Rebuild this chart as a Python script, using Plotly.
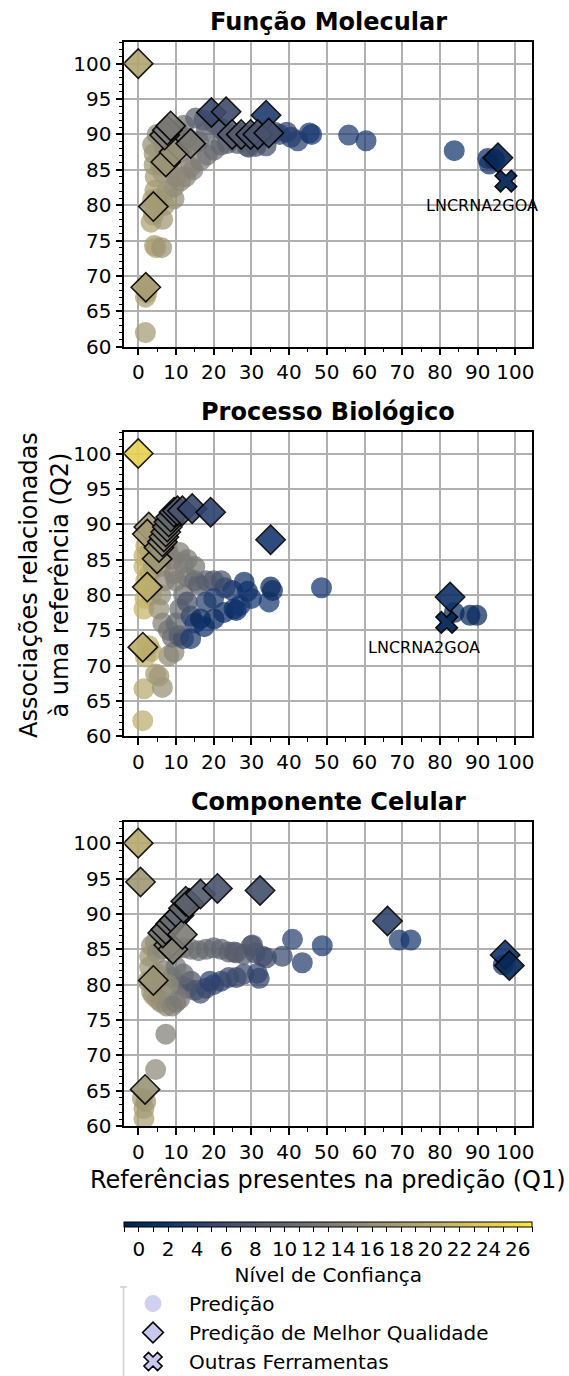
import plotly.graph_objects as go

FONT = "DejaVu Sans"

# ---------------- data ----------------
x_ticks = [0, 10, 20, 30, 40, 50, 60, 70, 80, 90, 100]
y_ticks = [60, 65, 70, 75, 80, 85, 90, 95, 100]
conf_ticks = list(range(-1, 28))
conf_labels = [str(v) if (v >= 0 and v % 2 == 0) else "" for v in conf_ticks]

subplot_titles = ["Função Molecular", "Processo Biológico", "Componente Celular"]

# Função Molecular
mf_x = [1.9, 1.9, 2.3, 2.0, 4.3, 4.7, 6.2, 3.4, 4.0, 3.8, 5.0, 9.5, 4.4, 7.6, 9.5, 11.2, 12.6, 4.5,
        6.5, 4.2, 5.9, 9.0, 13.9, 14.5, 16.5, 18.3, 20.1, 21.9, 23.6, 26.3, 28.9, 31.2, 33.9, 29.3,
        4.2, 3.8, 5.0, 6.8, 10.4, 12.1, 15.2, 17.4, 20.1, 22.0, 24.5, 27.0, 30.0, 33.0, 36.2, 37.5,
        39.4, 42.3, 40.5, 45.4, 46.0, 55.8, 60.4, 83.8, 92.7, 93.1, 94.5, 11.5, 8.0, 10.0, 7.0, 6.5,
        8.5, 13.0, 18.0, 16.0]
mf_y = [62.0, 67.0, 67.6, 68.6, 74.3, 74.0, 74.0, 77.6, 78.6, 80.8, 80.9, 80.9, 82.1, 82.1, 82.6, 83.4, 84.0, 84.0,
        84.5, 85.7, 85.7, 85.2, 85.4, 85.0, 86.3, 87.1, 87.8, 88.5, 88.7, 88.7, 88.3, 88.3, 88.4, 88.2,
        87.3, 88.5, 90.0, 88.3, 90.6, 91.3, 92.3, 92.0, 91.6, 90.8, 90.0, 90.2, 89.9, 90.0, 90.3, 90.0,
        90.3, 89.1, 89.6, 90.2, 90.0, 89.9, 89.1, 87.7, 86.6, 85.8, 86.5, 87.5, 86.0, 84.0, 80.0, 78.0,
        88.5, 89.5, 90.5, 89.0]
mf_conf = [17.5, 18.5, 18.5, 18.0, 18.0, 18.5, 16.5, 18.5, 18.0, 18.0, 17.5, 15.5, 18.0, 16.5, 15.5, 15.0, 14.5, 17.5,
           17.0, 17.0, 16.5, 15.5, 14.0, 14.0, 13.0, 12.0, 11.0, 10.0, 9.0, 8.5, 8.0, 7.0, 6.0, 7.5,
           16.5, 16.0, 15.0, 15.5, 13.0, 12.0, 9.0, 8.0, 7.0, 7.0, 7.5, 7.0, 6.5, 6.0, 5.0, 4.5,
           4.0, 4.0, 3.5, 3.0, 2.5, 3.0, 3.0, 2.0, 1.0, 1.5, 0.5, 14.0, 16.0, 15.0, 17.0, 17.0,
           14.0, 11.0, 9.0, 11.0]
mf_best_x = [0.0, 2.0, 4.0, 7.3, 9.5, 7.0, 7.7, 8.6, 13.9, 19.4, 23.3, 33.9, 24.9, 27.3, 29.8, 31.7, 34.6, 95.4]
mf_best_y = [100.0, 68.4, 79.8, 86.1, 87.5, 89.9, 90.6, 91.2, 88.7, 93.1, 93.2, 92.7, 90.0, 90.0, 90.0, 90.0, 90.2, 86.7]
mf_best_conf = [19.0, 18.0, 17.5, 16.5, 16.0, 13.5, 13.0, 12.5, 13.0, 5.0, 5.5, 3.0, 8.5, 8.0, 7.5, 7.0, 6.5, 0.0]
mf_tool_x = [97.5]
mf_tool_y = [83.4]
mf_tool_name = ["LNCRNA2GOA"]
mf_label_x = [91.1]
mf_label_y = [79.9]

# Processo Biológico
bp_x = [1.5, 1.8, 2.0, 1.5, 1.5, 2.0, 3.0, 3.5, 3.0, 4.0,
        1.2, 1.5, 6.4, 4.6, 5.5, 8.1, 9.5, 1.9, 2.8, 3.5,
        6.0, 7.0, 8.0, 9.0, 7.0, 6.0, 5.5, 6.5, 8.0, 9.0, 10.8, 12.0, 13.9, 10.0, 11.0, 12.0, 10.0,
        13.0, 15.0, 16.0, 18.0, 20.0, 22.0, 23.0, 25.0, 28.1, 29.0, 30.0, 35.1, 34.7, 35.6, 14.0,
        15.0, 16.5, 17.5, 20.1, 22.7, 25.4, 18.0, 20.0, 13.0, 15.0, 12.0, 11.0, 13.0, 9.5, 26.0, 27.0,
        48.6, 83.8, 88.0, 89.8]
bp_y = [78.0, 79.5, 82.0, 84.0, 85.5, 87.0, 83.0, 80.0, 86.0, 84.0,
        62.2, 66.7, 66.9, 68.8, 68.5, 71.4, 71.9, 71.2, 72.8, 72.0,
        84.0, 85.5, 86.0, 85.0, 82.0, 80.0, 78.0, 76.0, 75.0, 74.0, 74.2, 73.8, 73.8, 76.0, 78.0, 80.0, 82.0,
        82.5, 82.0, 81.5, 82.0, 82.0, 82.0, 81.0, 80.6, 81.8, 80.5, 79.5, 81.1, 79.0, 80.6, 77.0,
        76.0, 76.6, 75.5, 76.6, 77.5, 78.0, 79.0, 79.5, 79.0, 84.0, 84.5, 86.0, 85.0, 83.0, 77.8, 78.5,
        81.0, 77.5, 77.1, 77.1]
bp_conf = [21.0, 21.0, 20.5, 21.0, 20.5, 20.0, 19.5, 19.5, 19.0, 18.5,
           20.0, 19.5, 16.0, 17.5, 17.0, 15.0, 14.5, 20.5, 20.0, 19.5,
           16.0, 15.0, 14.5, 14.0, 15.0, 15.5, 16.0, 14.0, 12.0, 11.0, 8.0, 6.0, 3.0, 10.0, 11.0, 12.0, 13.0,
           12.0, 10.0, 9.0, 8.5, 8.0, 7.0, 5.0, 3.0, 1.5, 1.5, 2.0, 0.5, 2.5, 1.0, 5.0,
           3.0, 0.0, 1.5, 0.5, 1.0, 1.5, 4.0, 3.0, 7.0, 12.0, 13.0, 13.5, 13.0, 13.5, 1.0, 2.0,
           2.0, 1.0, 0.0, 0.5]
bp_best_x = [0.0, 1.2, 2.4, 5.0, 2.8, 2.4, 5.5, 6.4, 6.8, 7.3, 7.7, 8.1, 8.6, 9.5, 10.4, 11.7, 14.3, 19.2, 35.1, 82.7]
bp_best_y = [100.0, 72.6, 81.1, 85.1, 89.6, 88.6, 86.7, 87.5, 88.2, 88.9, 89.6, 90.3, 91.0, 91.7, 91.9, 91.9, 92.2, 91.7, 87.8, 79.7]
bp_best_conf = [24.5, 20.0, 20.0, 17.0, 17.0, 17.5, 16.0, 15.0, 14.0, 13.0, 12.0, 11.0, 10.0, 9.0, 8.0, 7.0, 5.0, 4.0, 2.5, 1.5]
bp_tool_x = [81.8]
bp_tool_y = [76.1]
bp_tool_name = ["LNCRNA2GOA"]
bp_label_x = [75.8]
bp_label_y = [72.6]

# Componente Celular
cc_x = [3.5, 4.5, 3.0, 5.0, 6.5, 8.0, 10.0, 12.0, 14.0, 16.0, 18.0, 20.0, 22.0, 24.0, 26.0, 28.0,
        30.0, 31.0, 33.0, 34.0, 38.2, 40.9, 43.5, 48.8, 69.2, 72.3, 96.8, 30.3, 25.4,
        7.0, 9.0, 11.0, 13.0, 15.0, 16.5, 18.0, 20.0, 22.0, 24.0, 26.0, 28.0, 31.6, 32.1, 14.0, 12.0, 10.0, 19.0,
        3.0, 2.5, 3.5, 4.0, 5.0, 6.0, 7.5, 9.0, 10.0, 11.0, 6.5, 8.0, 5.0,
        7.3, 4.6, 1.5, 1.5, 1.1, 2.0]
cc_y = [85.5, 86.0, 84.0, 84.5, 85.0, 85.5, 85.0, 85.2, 85.0, 84.8, 85.0, 85.2, 85.0, 84.6, 84.5, 84.3,
        85.5, 84.5, 84.0, 83.8, 84.0, 86.4, 83.1, 85.5, 86.3, 86.3, 82.8, 85.6, 84.6,
        82.0, 81.0, 80.0, 79.5, 79.2, 78.8, 79.5, 80.0, 80.5, 81.0, 81.0, 81.5, 81.6, 80.9, 80.5, 81.5, 82.5, 80.5,
        82.5, 80.5, 79.0, 78.5, 78.0, 77.5, 77.0, 77.0, 77.5, 78.0, 79.5, 80.0, 81.5,
        73.0, 68.0, 62.5, 61.1, 63.9, 63.5]
cc_conf = [16.0, 15.5, 16.5, 15.0, 14.5, 14.0, 13.0, 12.5, 12.0, 11.0, 10.5, 10.0, 9.5, 9.0, 8.5, 8.0,
           7.5, 7.0, 6.5, 6.0, 5.0, 4.0, 3.5, 3.0, 3.0, 2.5, 1.0, 7.5, 8.5,
           13.0, 12.0, 10.0, 9.0, 8.0, 6.0, 5.0, 5.0, 4.5, 5.0, 5.0, 5.5, 5.0, 4.5, 7.0, 10.0, 12.0, 4.0,
           16.5, 17.0, 17.0, 17.0, 16.5, 16.0, 15.0, 14.0, 13.0, 12.5, 15.5, 15.0, 16.0,
           13.5, 15.0, 17.5, 18.0, 17.5, 17.0]
cc_best_x = [0.0, 0.6, 1.8, 4.0, 8.1, 9.2, 6.5, 7.3, 8.6, 9.5, 10.8, 11.7, 12.0, 12.6, 13.5, 16.5, 21.0, 32.3, 66.1, 97.3, 98.4]
cc_best_y = [100.0, 94.5, 65.2, 80.6, 85.6, 85.0, 87.3, 87.8, 88.6, 89.1, 89.8, 87.1, 90.8, 91.8, 91.5, 92.8, 93.6, 93.3, 89.0, 84.2, 82.7]
cc_best_conf = [19.5, 17.0, 16.5, 16.5, 14.5, 14.0, 12.0, 12.0, 11.0, 10.5, 10.0, 13.0, 9.5, 9.0, 9.0, 8.0, 7.0, 6.0, 4.5, 2.0, 0.0]

panels = [
    dict(cx=mf_x, cy=mf_y, cc=mf_conf, bx=mf_best_x, by=mf_best_y, bc=mf_best_conf,
         tx=mf_tool_x, ty=mf_tool_y, tn=mf_tool_name, lx=mf_label_x, ly=mf_label_y),
    dict(cx=bp_x, cy=bp_y, cc=bp_conf, bx=bp_best_x, by=bp_best_y, bc=bp_best_conf,
         tx=bp_tool_x, ty=bp_tool_y, tn=bp_tool_name, lx=bp_label_x, ly=bp_label_y),
    dict(cx=cc_x, cy=cc_y, cc=cc_conf, bx=cc_best_x, by=cc_best_y, bc=cc_best_conf,
         tx=[], ty=[], tn=[], lx=[], ly=[]),
]

# ---------------- layout geometry ----------------
W, H = 569, 1376
X_DOM = [124.3 / W, 532.3 / W]
Y_DOMS = [[1 - 346.7 / H, 1 - 42.4 / H],
          [1 - 736.2 / H, 1 - 432.3 / H],
          [1 - 1126.2 / H, 1 - 821.9 / H]]
TITLE_Y = [22, 412, 802]
CMIN, CMAX = -1, 27
CSCALE = "Cividis"
TICK_FS = 20

fig = go.Figure()

for i, p in enumerate(panels):
    xa = "x" if i == 0 else f"x{i+1}"
    ya = "y" if i == 0 else f"y{i+1}"
    marker = dict(color=p["cc"], colorscale=CSCALE, cmin=CMIN, cmax=CMAX, size=19.5, opacity=0.72,
                  line=dict(width=1.5, color=p["cc"], colorscale=CSCALE, cmin=CMIN, cmax=CMAX))
    if i == 0:
        marker.update(showscale=True, colorbar=dict(
            orientation="h", x=0.577, xanchor="center", y=1 - 1222 / H, yanchor="top",
            len=408 / W, lenmode="fraction", thickness=5, thicknessmode="pixels",
            outlinewidth=1, outlinecolor="black", xpad=0, ypad=0,
            tickmode="array", tickvals=conf_ticks, ticktext=conf_labels,
            ticks="outside", ticklen=5, tickwidth=1.3, tickcolor="black",
            tickfont=dict(family=FONT, size=TICK_FS, color="black"),
            title=dict(text="Nível de Confiança", side="bottom",
                       font=dict(family=FONT, size=20, color="black"))))
    fig.add_trace(go.Scatter(x=p["cx"], y=p["cy"], mode="markers", marker=marker,
                             showlegend=False, xaxis=xa, yaxis=ya, hoverinfo="x+y"))
    fig.add_trace(go.Scatter(x=p["bx"], y=p["by"], mode="markers",
                             marker=dict(symbol="diamond", size=22.5, color=p["bc"], colorscale=CSCALE,
                                         cmin=CMIN, cmax=CMAX, opacity=0.9,
                                         line=dict(width=1.6, color="black")),
                             showlegend=False, xaxis=xa, yaxis=ya))
    if p["tx"]:
        fig.add_trace(go.Scatter(x=p["tx"], y=p["ty"], mode="markers",
                                 marker=dict(symbol="x", size=19, color=[0] * len(p["tx"]),
                                             colorscale=CSCALE, cmin=CMIN, cmax=CMAX, opacity=0.95,
                                             line=dict(width=1.6, color="black")),
                                 showlegend=False, xaxis=xa, yaxis=ya))
        for lx, ly, name in zip(p["lx"], p["ly"], p["tn"]):
            fig.add_annotation(x=lx, y=ly, xref=xa, yref=ya, text=name, showarrow=False,
                               xanchor="center", yanchor="middle",
                               font=dict(family=FONT, size=16, color="black"))

    axis_common = dict(showline=True, linecolor="black", linewidth=1.5, mirror=True,
                       ticks="outside", ticklen=7, tickwidth=1.5, tickcolor="black",
                       showgrid=True, gridcolor="#b0b0b0", gridwidth=1.5, zeroline=False,
                       tickfont=dict(family=FONT, size=TICK_FS, color="black"))
    fig.update_layout(**{
        ("xaxis" if i == 0 else f"xaxis{i+1}"): dict(
            axis_common, domain=X_DOM, range=[-3.7, 104.5], anchor=ya,
            tickmode="array", tickvals=x_ticks,
            minor=dict(dtick=5, tick0=0, ticks="outside", ticklen=4, tickwidth=1.2,
                       tickcolor="black", showgrid=False)),
        ("yaxis" if i == 0 else f"yaxis{i+1}"): dict(
            axis_common, domain=Y_DOMS[i], range=[60, 103], anchor=xa,
            tickmode="array", tickvals=y_ticks,
            minor=dict(dtick=1, tick0=0, ticks="outside", ticklen=4, tickwidth=1.2,
                       tickcolor="black", showgrid=False)),
    })
    fig.add_annotation(x=0.577, y=1 - TITLE_Y[i] / H, xref="paper", yref="paper",
                       xanchor="center", yanchor="middle",
                       text=f"<b>{subplot_titles[i]}</b>", showarrow=False,
                       font=dict(family=FONT, size=24, color="black"))

# legend-only entries
LAV = "#c8c8ee"
fig.add_trace(go.Scatter(x=[None], y=[None], mode="markers", name="Predição",
                         marker=dict(symbol="circle", size=16, color=LAV, opacity=0.85,
                                     line=dict(width=1, color=LAV))))
fig.add_trace(go.Scatter(x=[None], y=[None], mode="markers", name="Predição de Melhor Qualidade",
                         marker=dict(symbol="diamond", size=16, color=LAV,
                                     line=dict(width=1.6, color="black"))))
fig.add_trace(go.Scatter(x=[None], y=[None], mode="markers", name="Outras Ferramentas",
                         marker=dict(symbol="x", size=16, color=LAV,
                                     line=dict(width=1.6, color="black"))))

# axis titles
fig.add_annotation(x=45 / W, y=1 - 585 / H, xref="paper", yref="paper", textangle=-90,
                   xanchor="center", yanchor="middle",
                   text="Associações relacionadas<br>à uma referência (Q2)", showarrow=False,
                   font=dict(family=FONT, size=24, color="black"))
fig.add_annotation(x=0.577, y=1 - 1180 / H, xref="paper", yref="paper",
                   xanchor="center", yanchor="middle",
                   text="Referências presentes na predição (Q1)", showarrow=False,
                   font=dict(family=FONT, size=24, color="black"))

# partial legend frame edge
fig.add_shape(type="path", xref="paper", yref="paper",
              path=f"M {120/W},{1-1287/H} L {127/W},{1-1287/H} M {123.5/W},{1-1287/H} L {123.5/W},0",
              line=dict(color="#d0d0d0", width=1.5))

fig.update_layout(
    width=W, height=H, autosize=False,
    margin=dict(l=0, r=0, t=0, b=0, pad=0, autoexpand=False),
    paper_bgcolor="white", plot_bgcolor="white",
    font=dict(family=FONT, color="black"),
    showlegend=True,
    legend=dict(x=117 / W, y=1 - 1284 / H, xanchor="left", yanchor="top",
                font=dict(family=FONT, size=20, color="black"),
                bgcolor="rgba(0,0,0,0)", itemwidth=62, tracegroupgap=0),
)

fig.write_html("out.html",
               config={"responsive": False, "displayModeBar": False},
               post_script="document.body.style.margin='0';document.body.style.overflow='hidden';")
